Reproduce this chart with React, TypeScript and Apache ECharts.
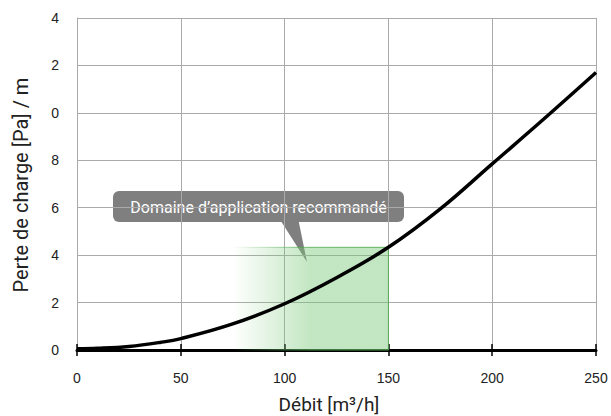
import React, { useEffect, useRef } from "react";
import * as echarts from "echarts";

const flowValues = [0, 10, 25, 40, 50, 75, 100, 125, 150, 175, 200, 225, 250];
const lossValues = [0.05, 0.07, 0.15, 0.32, 0.48, 1.1, 1.95, 3.05, 4.33, 5.95, 7.85, 9.75, 11.7];
const xTickLabels = ["0", "50", "100", "150", "200", "250"];
const yTickLabels = ["0", "2", "4", "6", "8", "0", "2", "4"];
const zoneStart = 75;
const zoneEnd = 150;
const zoneTop = 4.33;
const calloutText = "Domaine d’application recommandé";
const xTitle = "Débit [m³/h]";
const yTitle = "Perte de charge [Pa] / m";

export default function App() {
  const ref = useRef<HTMLDivElement>(null);
  useEffect(() => {
    if (!ref.current) return;
    const chart = echarts.init(ref.current, null, { renderer: "svg" });
    const data = flowValues.map((x, i) => [x, lossValues[i]]);
    const greenFill = new echarts.graphic.LinearGradient(0, 0, 1, 0, [
      { offset: 0, color: "rgba(120,200,120,0)" },
      { offset: 0.5, color: "rgba(120,200,120,0.45)" },
      { offset: 1, color: "rgba(120,200,120,0.45)" },
    ]);
    const greenBorder = new echarts.graphic.LinearGradient(0, 0, 1, 0, [
      { offset: 0, color: "rgba(80,170,80,0)" },
      { offset: 0.5, color: "rgba(80,170,80,0.8)" },
      { offset: 1, color: "rgba(80,170,80,0.9)" },
    ]);
    const xAxisBase = {
      type: "value",
      min: 0,
      max: 250,
      interval: 50,
      position: "bottom",
    };
    chart.setOption({
      animation: false,
      grid: { left: 77, right: 15, top: 18, bottom: 66 },
      xAxis: [
        {
          ...xAxisBase,
          axisLine: { show: true, lineStyle: { color: "#000", width: 3 } },
          axisTick: { show: true, length: 6, lineStyle: { color: "#000", width: 1.5 } },
          axisLabel: {
            margin: 21,
            fontFamily: "Liberation Sans",
            fontSize: 14,
            color: "#222",
            formatter: (v: number) => xTickLabels[Math.round(v / 50)] ?? "",
          },
          splitLine: { show: true, lineStyle: { color: "#aaa", width: 1 } },
        },
        {
          ...xAxisBase,
          axisLine: { show: false },
          axisTick: { show: true, inside: true, length: 6, lineStyle: { color: "#000", width: 1.5 } },
          axisLabel: { show: false },
          splitLine: { show: false },
        },
      ],
      yAxis: {
        type: "value",
        min: 0,
        max: 14,
        interval: 2,
        axisLine: { show: true, lineStyle: { color: "#aaa", width: 1 } },
        axisTick: { show: false },
        axisLabel: {
          margin: 18,
          fontFamily: "Liberation Sans",
          fontSize: 14,
          color: "#222",
          formatter: (v: number) => yTickLabels[Math.round(v / 2)] ?? "",
        },
        splitLine: { show: true, lineStyle: { color: "#aaa", width: 1 } },
      },
      series: [
        {
          type: "line",
          xAxisIndex: 0,
          data,
          smooth: 0.4,
          symbol: "none",
          z: 5,
          lineStyle: { color: "#000", width: 3.5 },
          markArea: {
            silent: true,
            itemStyle: { color: greenFill, borderColor: greenBorder, borderWidth: 1 },
            data: [[{ coord: [zoneStart, 0] }, { coord: [zoneEnd, zoneTop] }]],
          },
        },
      ],
      graphic: [
        {
          type: "text",
          x: 21,
          y: 185,
          rotation: Math.PI / 2,
          style: {
            text: yTitle,
            fill: "#222",
            font: "20px Roboto",
            align: "center",
            verticalAlign: "middle",
          },
        },
        {
          type: "text",
          x: 329,
          y: 404,
          style: {
            text: xTitle,
            fill: "#222",
            font: "19px Roboto",
            align: "center",
            verticalAlign: "middle",
          },
        },
        {
          type: "group",
          z: 100,
          children: [
            {
              type: "polygon",
              shape: { points: [[279, 218], [298, 218], [307, 262]] },
              style: { fill: "#7f7f7f" },
            },
            {
              type: "rect",
              shape: { x: 113, y: 191, width: 291, height: 31, r: 6 },
              style: { fill: "#7f7f7f" },
            },
            {
              type: "text",
              x: 258.5,
              y: 207,
              style: {
                text: calloutText,
                fill: "#fff",
                font: "16px Roboto",
                align: "center",
                verticalAlign: "middle",
              },
            },
          ],
        },
      ],
    });
    return () => chart.dispose();
  }, []);
  return (
    <div
      ref={ref}
      style={{ position: "absolute", left: 0, top: 0, width: 611, height: 416 }}
    />
  );
}
